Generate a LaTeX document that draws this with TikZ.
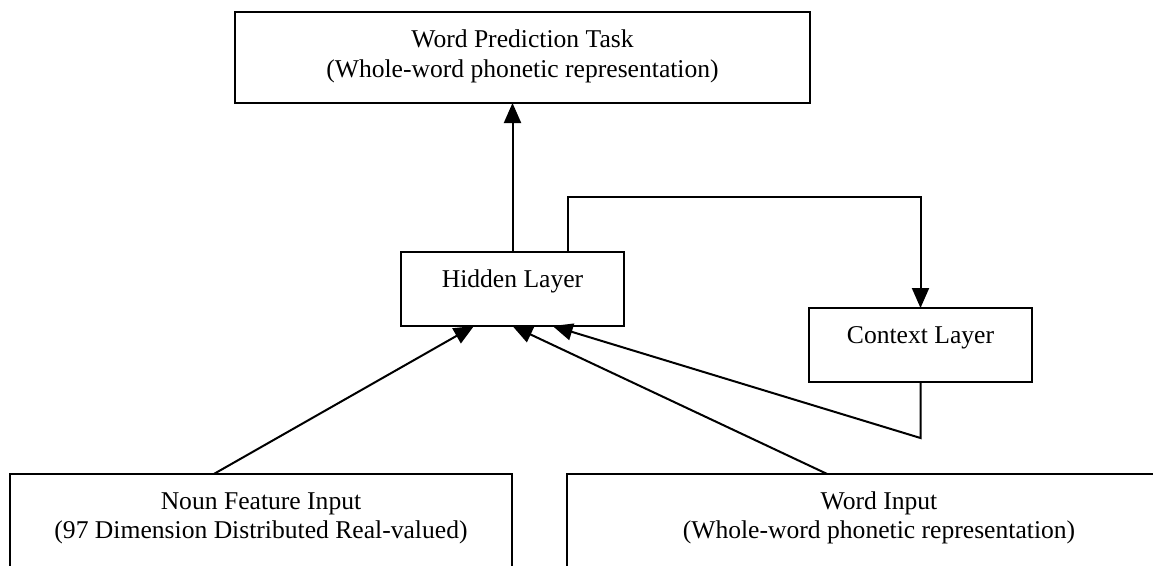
\documentclass[tikz,border=0pt]{standalone}
\usepackage{fontspec}
\setmainfont{Liberation Serif}
\usetikzlibrary{arrows.meta,calc}
\begin{document}
\begin{tikzpicture}[x=1pt,y=-1pt,
  box/.style={draw,line width=2pt,rectangle,inner sep=0pt,outer sep=0pt,anchor=north west},
  txt/.style={anchor=base,inner sep=0pt,font=\fontsize{25.6}{30}\selectfont},
  conn/.style={line width=2pt},
  arr/.style={conn,-{Triangle[length=20pt,width=17pt]}}]
\useasboundingbox (0,0) rectangle (1153,565);
\clip (0,0) rectangle (1153,565);
% boxes
\node[box,minimum width=575pt,minimum height=91pt] (top) at (235,12) {};
\node[box,minimum width=223pt,minimum height=74pt] (hid) at (401,252) {};
\node[box,minimum width=223pt,minimum height=74pt] (ctx) at (809,308) {};
\node[box,minimum width=502pt,minimum height=130pt] (noun) at (10,474) {};
\node[box,minimum width=624pt,minimum height=130pt] (word) at (567,474) {};
% texts
\node[txt] (topA) at ($(top.north)+(0,35)$) {Word Prediction Task};
\node[txt] (topB) at ($(top.north)+(0,65)$) {(Whole-word phonetic representation)};
\node[txt] (hidT) at ($(hid.north)+(0,35)$) {Hidden Layer};
\node[txt] (ctxT) at ($(ctx.north)+(0,35)$) {Context Layer};
\node[txt] (nounA) at ($(noun.north)+(0,35)$) {Noun Feature Input};
\node[txt] (nounB) at ($(noun.north)+(0,64)$) {(97 Dimension Distributed Real-valued)};
\node[txt] (wordA) at ($(word.north)+(0,35)$) {Word Input};
\node[txt] (wordB) at ($(word.north)+(0,64)$) {(Whole-word phonetic representation)};
% connectors
\draw[arr] (hid.north) -- (hid.north |- top.south);
\coordinate (fb) at ($(hid.north west)!0.75!(hid.north east)$);
\draw[arr] (fb) -- ++(0,-55) -| (ctx.north);
\coordinate (ctxIn) at ($(hid.south west)!0.68!(hid.south east)$);
\draw[arr] (ctx.south) -- ++(0,56) -- (ctxIn);
\coordinate (nounOut) at ($(noun.north west)!0.406!(noun.north east)$);
\coordinate (nounIn) at ($(hid.south west)!0.327!(hid.south east)$);
\draw[arr] (nounOut) -- (nounIn);
\coordinate (wordOut) at ($(word.north west)!0.417!(word.north east)$);
\draw[arr] (wordOut) -- (hid.south);
\end{tikzpicture}
\end{document}
